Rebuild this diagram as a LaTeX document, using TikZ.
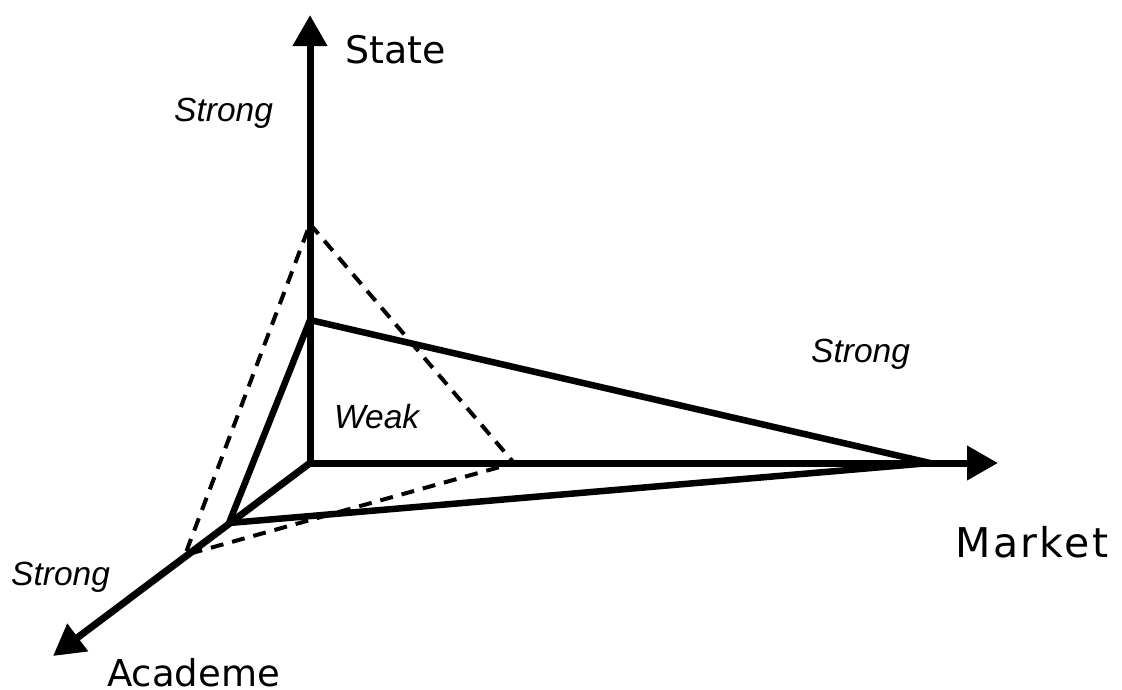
\documentclass[tikz,border=0pt]{standalone}
\usepackage{fontspec}
\setmainfont{DejaVu Sans}
\newfontfamily\itfont{Liberation Sans}[UprightFont=*-Italic]
\newfontfamily\mkfont{DejaVu Sans}[LetterSpace=6]
\usetikzlibrary{arrows.meta}
\begin{document}
\begin{tikzpicture}[x=1pt,y=-1pt,
  axis/.style={line width=7pt,-{Triangle[length=31pt,width=33pt]}},
  solidtri/.style={line width=6.5pt,line join=miter},
  dashtri/.style={line width=4pt,dash pattern=on 13pt off 9pt},
  axlabel/.style={anchor=base west,inner sep=0pt,font=\fontsize{38}{40}\selectfont},
  itlabel/.style={anchor=base west,inner sep=0pt,font=\itfont\fontsize{33.5}{35}\selectfont}]
\useasboundingbox (0,0) rectangle (1122,689);
% points
\coordinate (O) at (310,463);
\coordinate (Stip) at (310,15);
\coordinate (Mtip) at (998,463);
\coordinate (Atip) at (53,656);
\coordinate (S1) at (310,320);
\coordinate (M1) at (930,463);
\coordinate (A1) at (229,523);
\coordinate (S2) at (310,224);
\coordinate (M2) at (514,463);
\coordinate (A2) at (185,555);
% dashed triangle
\draw[dashtri] (S2) -- (M2) -- (A2) -- cycle;
% axes
\draw[axis] (O) -- (Stip);
\draw[axis] (O) -- (Mtip);
\draw[axis] (O) -- (Atip);
% solid triangle
\draw[solidtri] (S1) -- (M1) -- (A1) -- cycle;
% labels
\node[axlabel] (state) at (345,63) {State};
\node[axlabel,font=\mkfont\fontsize{41}{43}\selectfont] (market) at (955,557) {Market};
\node[axlabel,font=\fontsize{37}{39}\selectfont] (academe) at (107,686) {Academe};
\node[itlabel] (strongS) at (174,121) {Strong};
\node[itlabel] (strongM) at (811,362) {Strong};
\node[itlabel] (strongA) at (11,585) {Strong};
\node[itlabel] (weak) at (334,428) {Weak};
\end{tikzpicture}
\end{document}
